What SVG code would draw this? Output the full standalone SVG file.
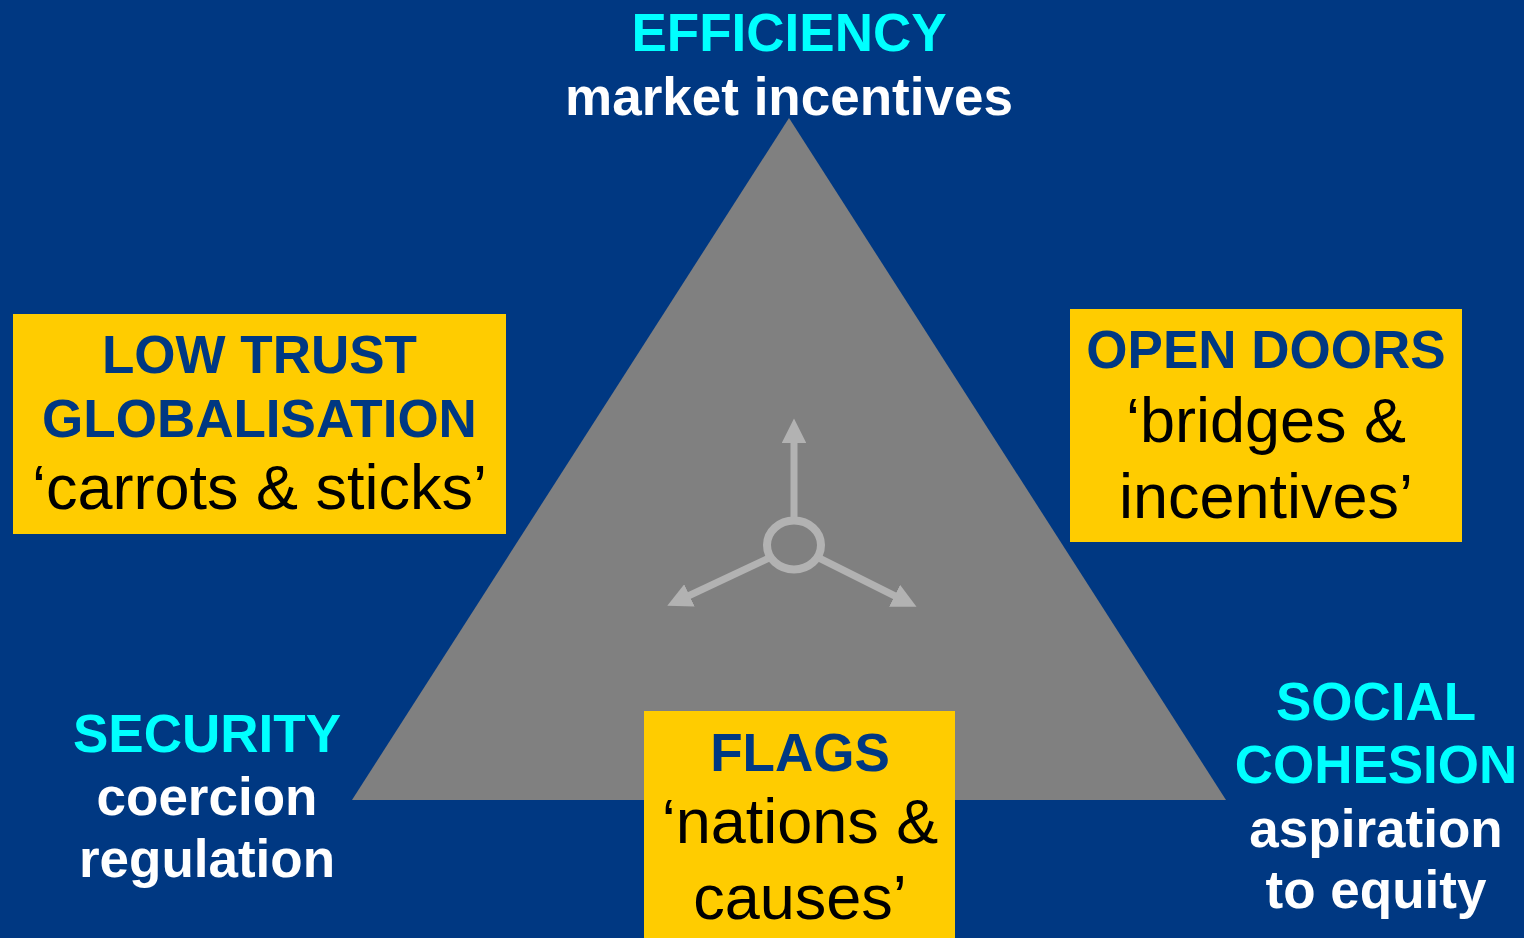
<svg xmlns="http://www.w3.org/2000/svg" width="1524" height="938" viewBox="0 0 1524 938">
<style>
.h{font-family:"Liberation Sans",Arial,sans-serif;font-weight:bold;font-size:53px;text-anchor:middle}
.r{font-family:"Liberation Sans",Arial,sans-serif;font-size:63px;text-anchor:middle;fill:#000}
.cy{fill:#00ffff}
.wh{fill:#ffffff}
.bl{fill:#003882}
.box{fill:#ffcc00}
.arr{stroke:#b2b2b2;stroke-width:7;fill:none}
</style>
<defs>
<marker id="ah" viewBox="0 0 10 10" refX="2" refY="5" markerWidth="3.5" markerHeight="3.5" orient="auto" markerUnits="strokeWidth">
<path d="M0,0 L10,5 L0,10 z" fill="#b2b2b2"/>
</marker>
</defs>
<rect width="1524" height="938" fill="#003882"/>
<g id="triangle">
<polygon points="789,118 352,800 1226,800" fill="#808080"/>
</g>
<g id="connectors">
<line class="arr" x1="794" y1="518" x2="794" y2="438" marker-end="url(#ah)"/>
<line class="arr" x1="769" y1="558" x2="685" y2="597.5" marker-end="url(#ah)"/>
<line class="arr" x1="819" y1="558" x2="899" y2="598" marker-end="url(#ah)"/>
</g>
<g id="hub">
<ellipse cx="794" cy="545" rx="27" ry="24.5" fill="none" stroke="#b2b2b2" stroke-width="8"/>
</g>
<g id="efficiency">
<text class="h cy" x="789" y="51">EFFICIENCY</text>
<text class="h wh" x="789" y="115">market incentives</text>
</g>
<g id="low-trust">
<rect class="box" x="13" y="314" width="493" height="220"/>
<text class="h bl" x="259.5" y="373">LOW TRUST</text>
<text class="h bl" x="259.5" y="437">GLOBALISATION</text>
<text class="r" x="259.5" y="509">‘carrots &amp; sticks’</text>
</g>
<g id="open-doors">
<rect class="box" x="1070" y="309" width="392" height="233"/>
<text class="h bl" x="1266" y="368">OPEN DOORS</text>
<text class="r" x="1266" y="442">‘bridges &amp;</text>
<text class="r" x="1266" y="518">incentives’</text>
</g>
<g id="flags">
<rect class="box" x="644" y="711" width="311" height="227"/>
<text class="h bl" x="800" y="771">FLAGS</text>
<text class="r" x="800" y="843">‘nations &amp;</text>
<text class="r" x="800" y="919">causes’</text>
</g>
<g id="security">
<text class="h cy" x="207" y="752">SECURITY</text>
<text class="h wh" x="207" y="815">coercion</text>
<text class="h wh" x="207" y="877">regulation</text>
</g>
<g id="social-cohesion">
<text class="h cy" x="1376" y="720">SOCIAL</text>
<text class="h cy" x="1376" y="783">COHESION</text>
<text class="h wh" x="1376" y="847">aspiration</text>
<text class="h wh" x="1376" y="908">to equity</text>
</g>
</svg>
